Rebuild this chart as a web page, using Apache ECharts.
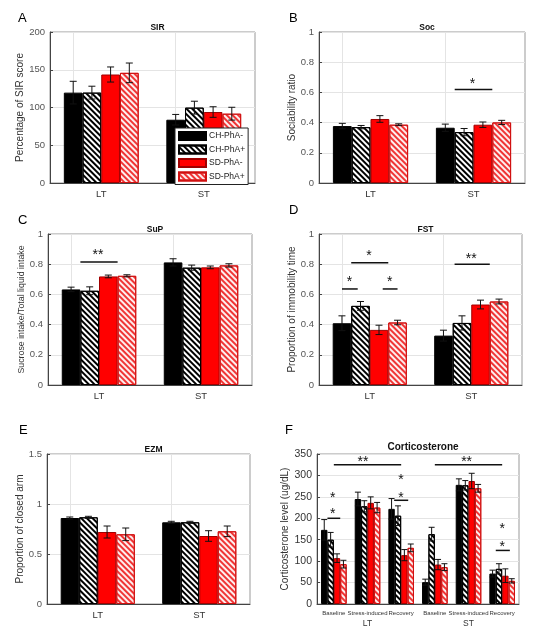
<!DOCTYPE html>
<html>
<head>
    <meta charset="utf-8">
    <title>ECharts</title>
    <script src="https://cdn.jsdelivr.net/npm/echarts@6/dist/echarts.min.js"></script>
    <style>html,body{margin:0;padding:0;background:#fff;}</style>
</head>
<body>
<div id="main" style="width: 540px; height:640px;"></div>
<script type="text/javascript">
    // groups and categories
    var groups = ['CH-PhA-', 'CH-PhA+', 'SD-PhA-', 'SD-PhA+'];
    var cats = ['LT', 'ST'];
    var cortCats = ['Baseline', 'Stress-induced', 'Recovery', 'Baseline', 'Stress-induced', 'Recovery'];
    var cortGroups = ['LT', 'ST'];

    // means and error (one row per group)
    var sirMean = [[119.7, 83.8], [119.7, 99.8], [143.7, 94], [145.9, 91.8]];
    var sirErr = [[15, 7], [8.5, 8.5], [10, 7], [13, 8.5]];
    var socMean = [[0.377, 0.366], [0.37, 0.337], [0.424, 0.386], [0.386, 0.401]];
    var socErr = [[0.018, 0.024], [0.011, 0.024], [0.022, 0.018], [0.006, 0.014]];
    var supMean = [[0.633, 0.812], [0.624, 0.777], [0.719, 0.779], [0.723, 0.792]];
    var supErr = [[0.015, 0.024], [0.026, 0.017], [0.009, 0.009], [0.007, 0.011]];
    var fstMean = [[0.409, 0.327], [0.524, 0.411], [0.365, 0.533], [0.414, 0.553]];
    var fstErr = [[0.049, 0.036], [0.029, 0.047], [0.031, 0.029], [0.015, 0.016]];
    var ezmMean = [[0.86, 0.817], [0.867, 0.817], [0.72, 0.68], [0.697, 0.727]];
    var ezmErr = [[0.01, 0.01], [0.01, 0.01], [0.06, 0.053], [0.063, 0.053]];
    var cortMean = [
        [173, 245, 222, 51, 278, 71],
        [150, 228, 206, 163, 277, 82],
        [107, 236, 114, 92, 287, 66],
        [93, 225, 131, 86, 270, 54]
    ];
    var cortErr = [
        [24, 16, 24, 7, 14, 8],
        [17, 13, 23, 16, 11, 12],
        [10, 14, 13, 12, 18, 16],
        [9, 12, 9, 8, 9, 5]
    ];

    // significance marks: lines [cat1, slot1, cat2, slot2, y], texts [cat, slot, y, text]
    var socSigLines = [[1, 0.5, 1, 2.5, 0.62]];
    var socSigText = [[1, 1.45, 0.675, '*']];
    var supSigLines = [[0, 0.5, 0, 2.5, 0.815]];
    var supSigText = [[0, 1.45, 0.88, '**']];
    var fstSigLines = [[0, 0.5, 0, 2.5, 0.81], [0, 0, 0, 0.85, 0.636], [0, 2.2, 0, 3.0, 0.636], [1, 0.6, 1, 2.5, 0.80]];
    var fstSigText = [[0, 1.46, 0.874, '*'], [0, 0.4, 0.70, '*'], [0, 2.58, 0.70, '*'], [1, 1.5, 0.854, '**']];
    var cortSigLines = [[0, 1.5, 2, 1.5, 325], [3, 1.5, 5, 1.5, 325], [0, 0.5, 0, 2.5, 200], [2, 0.4, 2, 2.6, 242], [5, 0.5, 5, 2.7, 125]];
    var cortSigText = [[1, 0.8, 337, '**'], [4, 1.2, 337, '**'], [0, 1.33, 216, '*'], [0, 1.33, 255, '*'],
        [2, 1.47, 255, '*'], [2, 1.47, 296, '*'], [5, 1.5, 140, '*'], [5, 1.5, 181, '*']];

    var myChart = echarts.init(document.getElementById('main'));

    var hatch = function (c) {
        return {symbol: 'rect', symbolSize: 1, dashArrayX: [1, 0], dashArrayY: [2, 2], rotation: Math.PI / 4, color: c};
    };
    var barStyles = [
        {color: '#000', borderColor: '#000', borderWidth: 1},
        {color: '#fff', borderColor: '#000', borderWidth: 1, decal: hatch('#000')},
        {color: '#ff0000', borderColor: '#a00000', borderWidth: 1},
        {color: '#fdeeee', borderColor: '#d01010', borderWidth: 1, decal: hatch('#f03535')}
    ];

    var panels = [
        {letter: 'A', title: 'SIR', yName: 'Percentage of SIR score', max: 200, interval: 50, cats: cats,
            mean: sirMean, err: sirErr, lines: [], texts: [],
            box: {left: 50, top: 32, width: 205, height: 151}, letterPos: [13, 7], gap: 24, frac: 0.73},
        {letter: 'B', title: 'Soc', yName: 'Sociability ratio', max: 1, interval: 0.2, cats: cats,
            mean: socMean, err: socErr, lines: socSigLines, texts: socSigText,
            box: {left: 319, top: 32, width: 206, height: 151}, letterPos: [284, 7], gap: 22, frac: 0.73},
        {letter: 'C', title: 'SuP', yName: 'Sucrose intake/Total liquid intake', max: 1, interval: 0.2, cats: cats,
            mean: supMean, err: supErr, lines: supSigLines, texts: supSigText,
            box: {left: 48, top: 234, width: 204, height: 151}, letterPos: [13, 209], gap: 22, frac: 0.73},
        {letter: 'D', title: 'FST', yName: 'Proportion of immobility time', max: 1, interval: 0.2, cats: cats,
            mean: fstMean, err: fstErr, lines: fstSigLines, texts: fstSigText,
            box: {left: 319, top: 234, width: 203, height: 151}, letterPos: [284, 199], gap: 22, frac: 0.73},
        {letter: 'E', title: 'EZM', yName: 'Proportion of closed arm', max: 1.5, interval: 0.5, cats: cats,
            mean: ezmMean, err: ezmErr, lines: [], texts: [],
            box: {left: 47, top: 454, width: 203, height: 150}, letterPos: [14, 419], gap: 22, frac: 0.735},
        {letter: 'F', title: 'Corticosterone', yName: 'Corticosterone level (ug/dL)', max: 350, interval: 50, cats: cortCats,
            mean: cortMean, err: cortErr, lines: cortSigLines, texts: cortSigText,
            box: {left: 317, top: 454, width: 202, height: 150}, letterPos: [280, 419], gap: 26, frac: 0.76}
    ];

    function slotX(api, cat, slot, frac) {
        var c = api.coord([cat, 0])[0];
        var band = api.size([1, 0])[0];
        return c + (slot - 1.5) * band * frac / 4;
    }

    var grids = [], xAxes = [], yAxes = [], titles = [], series = [];

    panels.forEach(function (p, i) {
        var isF = i === 5;
        grids.push(Object.assign({show: true, borderColor: '#999', borderWidth: 1, backgroundColor: 'transparent'}, p.box));
        titles.push({text: p.letter, left: p.letterPos[0], top: p.letterPos[1],
            textStyle: {fontSize: 13, fontWeight: 'normal', color: '#000', fontFamily: 'Liberation Sans'}});
        titles.push({text: p.title, left: p.box.left + p.box.width / 2, top: p.box.top - (isF ? 17 : 14), textAlign: 'center',
            textStyle: {fontSize: isF ? 10 : 8.5, fontWeight: 'bold', color: '#111', fontFamily: 'Liberation Sans'}});
        xAxes.push({
            type: 'category', gridIndex: i, data: p.cats,
            axisLine: {lineStyle: {color: '#444'}},
            axisTick: {show: true, inside: true, alignWithLabel: true, length: 3, lineStyle: {color: '#444'}},
            axisLabel: isF ? {
                interval: 0, margin: 5, fontSize: 6, lineHeight: 9, color: '#333',
                formatter: function (v, idx) {
                    return idx % 3 === 1 ? v + '\n{g|' + cortGroups[Math.floor(idx / 3)] + '}' : v;
                },
                rich: {g: {fontSize: 8.5, lineHeight: 11, color: '#333'}}
            } : {margin: 6, fontSize: 9.5, color: '#333'},
            splitLine: {show: false}
        });
        yAxes.push({
            type: 'value', gridIndex: i, min: 0, max: p.max, interval: p.interval,
            name: p.yName, nameLocation: 'middle', nameGap: p.gap,
            nameTextStyle: {fontSize: i === 2 ? 8.8 : 10, color: '#333'},
            axisLine: {show: true, lineStyle: {color: '#444'}},
            axisTick: {show: true, inside: true, length: 3, lineStyle: {color: '#444'}},
            axisLabel: {fontSize: isF ? 10.5 : 9.5, color: isF ? '#333' : '#555', margin: 5},
            splitLine: {show: true, lineStyle: {color: '#e4e4e4'}}
        });

        groups.forEach(function (g, k) {
            var s = {
                type: 'bar', name: g, xAxisIndex: i, yAxisIndex: i, data: p.mean[k],
                barGap: '0%', barCategoryGap: Math.round((1 - p.frac) * 100) + '%',
                itemStyle: barStyles[k], silent: true, z: 2
            };
            if (k === 0 && !isF) {
                s.markLine = {
                    silent: true, symbol: 'none', z: 1, label: {show: false}, animation: false,
                    lineStyle: {color: '#e4e4e4', type: 'solid', width: 1},
                    data: p.cats.map(function (c) { return {xAxis: c}; })
                };
            }
            series.push(s);
        });

        // error bars
        var errData = [];
        p.mean.forEach(function (row, k) {
            row.forEach(function (m, c) { errData.push([c, k, m, p.err[k][c]]); });
        });
        series.push({
            type: 'custom', xAxisIndex: i, yAxisIndex: i, silent: true, z: 3, data: errData,
            encode: {x: 0, y: 2},
            renderItem: function (params, api) {
                var x = slotX(api, api.value(0), api.value(1), p.frac);
                var m = api.value(2), e = api.value(3);
                var top = api.coord([0, m + e])[1], bot = api.coord([0, m - e])[1];
                var w = isF ? 3 : 3.5;
                var st = {stroke: '#111', lineWidth: 1};
                return {type: 'group', children: [
                    {type: 'line', shape: {x1: x, y1: top, x2: x, y2: bot}, style: st},
                    {type: 'line', shape: {x1: x - w, y1: top, x2: x + w, y2: top}, style: st},
                    {type: 'line', shape: {x1: x - w, y1: bot, x2: x + w, y2: bot}, style: st}
                ]};
            }
        });

        if (p.lines.length) {
            series.push({
                type: 'custom', xAxisIndex: i, yAxisIndex: i, silent: true, z: 4, data: p.lines,
                encode: {x: [0, 2], y: 4},
                renderItem: function (params, api) {
                    var x1 = slotX(api, api.value(0), api.value(1), p.frac);
                    var x2 = slotX(api, api.value(2), api.value(3), p.frac);
                    var y = api.coord([0, api.value(4)])[1];
                    return {type: 'line', shape: {x1: x1, y1: y, x2: x2, y2: y}, style: {stroke: '#111', lineWidth: 1.5}};
                }
            });
            series.push({
                type: 'custom', xAxisIndex: i, yAxisIndex: i, silent: true, z: 4,
                data: p.texts.map(function (t) { return [t[0], t[1], t[2]]; }),
                encode: {x: 0, y: 2},
                renderItem: function (params, api) {
                    var x = slotX(api, api.value(0), api.value(1), p.frac);
                    var y = api.coord([0, api.value(2)])[1];
                    return {type: 'text', style: {
                        text: p.texts[params.dataIndex][3], x: x, y: y + 3,
                        align: 'center', verticalAlign: 'middle',
                        fontSize: 14, fontFamily: 'Liberation Sans', fill: '#111'
                    }};
                }
            });
        }
    });

    var option = {
        backgroundColor: '#fff',
        animation: false,
        textStyle: {fontFamily: 'Liberation Sans, Arial, sans-serif'},
        title: titles,
        legend: {
            data: groups, orient: 'vertical', left: 175, top: 128, icon: 'rect',
            itemWidth: 27, itemHeight: 8, itemGap: 3.5, padding: [3, 3, 3, 3],
            backgroundColor: '#fff', borderColor: '#222', borderWidth: 1,
            textStyle: {fontSize: 8.5, color: '#222', padding: [0, 0, 0, -2]},
            selectedMode: false, z: 10
        },
        grid: grids,
        xAxis: xAxes,
        yAxis: yAxes,
        series: series
    };

    myChart.setOption(option);
</script>
</body>
</html>
